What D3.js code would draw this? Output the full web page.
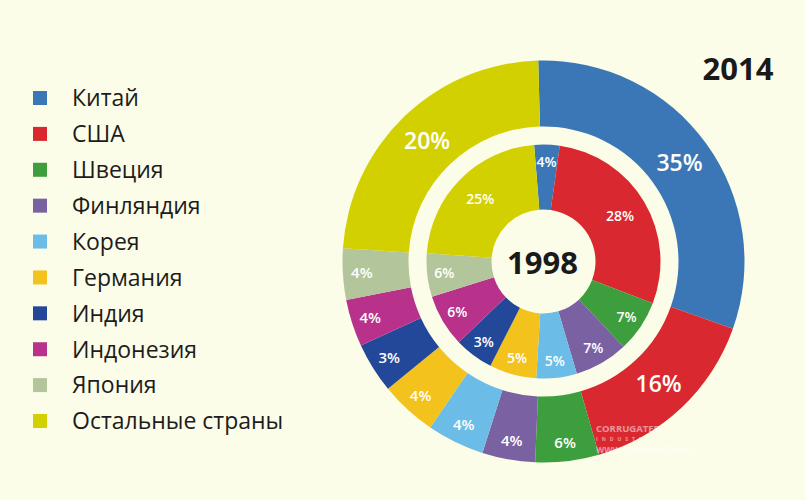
<!DOCTYPE html>
<html>
<head>
<meta charset="utf-8">
<script src="https://cdn.jsdelivr.net/npm/d3@7"></script>
<style>
  body { margin: 0; background: #fcfde9; }
  text { font-family: "Open Sans", "Noto Sans", sans-serif; }
</style>
</head>
<body>
<div id="chart"></div>
<script>
// countries, in the order of the legend and of the slices (clockwise from the top)
const countries = ["Китай", "США", "Швеция", "Финляндия", "Корея", "Германия",
  "Индия", "Индонезия", "Япония", "Остальные страны"];
const colors = ["#3b77b7", "#d9282f", "#3c9e3c", "#7a62a2", "#6bbce6", "#f4c21c",
  "#23489a", "#b8318a", "#b3c59b", "#d3d002"];

// printed percentages
const share2014 = [35, 16, 6, 4, 4, 4, 3, 4, 4, 20];
const share1998 = [4, 28, 7, 7, 5, 5, 3, 6, 6, 25];

// slice sizes as they are drawn in the picture (% of the circle)
const arc2014 = [30.8, 15.1, 5.1, 4.25, 4.6, 4.55, 4.05, 3.8, 4.1, 23.5];
const arc1998 = [3.5, 28.6, 7.2, 7.4, 5.6, 6.5, 5.4, 7.25, 6.0, 22.6];

const years = ["2014", "1998"];

let width = 805,
  height = 500;

let svg = d3.select("#chart")
  .append("svg")
  .attr("width", width)
  .attr("height", height);

svg.append("rect")
  .attr("width", width)
  .attr("height", height)
  .attr("fill", "#fcfde9");

// legend
let legendY = d3.scalePoint()
  .domain(countries)
  .range([98, 421]);

let legend = svg.append("g")
  .selectAll("g")
  .data(countries)
  .join("g")
  .attr("transform", d => `translate(0,${legendY(d)})`);

legend.append("rect")
  .attr("x", 33)
  .attr("y", -7)
  .attr("width", 14)
  .attr("height", 14)
  .attr("fill", (d, i) => colors[i]);

legend.append("text")
  .attr("x", 72)
  .attr("dy", "0.36em")
  .attr("font-size", 23)
  .attr("fill", "#1c1c1c")
  .text(d => d);

// rings
let cx = 543.5,
  cy = 261.5;

let g = svg.append("g")
  .attr("transform", `translate(${cx},${cy})`);

let deg = Math.PI / 180;

function ring(sizes, shares, start, r0, r1, labelR, fontSize) {
  let pie = d3.pie()
    .sort(null)
    .value(d => d.size)
    .startAngle(start * deg)
    .endAngle(start * deg + 2 * Math.PI);

  let rows = sizes.map((s, i) => ({ size: s, share: shares[i], color: colors[i] }));
  let arcs = pie(rows);

  let arc = d3.arc().innerRadius(r0).outerRadius(r1);

  let rg = g.append("g");

  rg.selectAll("path")
    .data(arcs)
    .join("path")
    .attr("d", arc)
    .attr("fill", d => d.data.color);

  rg.selectAll("text")
    .data(arcs)
    .join("text")
    .attr("transform", d => {
      let a = (d.startAngle + d.endAngle) / 2;
      let r = labelR(d.data.share);
      return `translate(${r * Math.sin(a)},${-r * Math.cos(a)})`;
    })
    .attr("text-anchor", "middle")
    .attr("dy", "0.36em")
    .attr("font-size", d => fontSize(d.data.share))
    .attr("font-weight", 600)
    .attr("fill", "#fff")
    .text(d => d.data.share + "%");
}

// 2014, outer ring
ring(arc2014, share2014, -1.5, 135, 201,
  v => v >= 10 ? 168 : 182,
  v => v >= 10 ? 23 : 15);

// 1998, inner ring
ring(arc1998, share1998, -4.6, 52, 117,
  v => v >= 20 ? 89 : 100,
  v => 14);

// year titles
svg.append("text")
  .attr("x", 542.5)
  .attr("y", 263)
  .attr("dy", "0.36em")
  .attr("text-anchor", "middle")
  .attr("font-size", 31)
  .attr("font-weight", 700)
  .attr("fill", "#1a1a1a")
  .text(years[1]);

svg.append("text")
  .attr("x", 738)
  .attr("y", 68.5)
  .attr("dy", "0.36em")
  .attr("text-anchor", "middle")
  .attr("font-size", 31)
  .attr("font-weight", 700)
  .attr("fill", "#1a1a1a")
  .text(years[0]);

// faint watermark
let wm = svg.append("g")
  .attr("fill", "#fff")
  .attr("opacity", 0.5)
  .attr("font-family", "DejaVu Sans Condensed, DejaVu Sans, sans-serif")
  .attr("font-weight", 700);

wm.append("text").attr("x", 596).attr("y", 432).attr("font-size", 9.5).text("CORRUGATED");
wm.append("text").attr("x", 596).attr("y", 441).attr("font-size", 5).attr("letter-spacing", 4).text("INDUSTRY");
wm.append("text").attr("x", 596).attr("y", 453).attr("font-size", 8.5).text("WWW.CORRUGATED.RU");
</script>
</body>
</html>
